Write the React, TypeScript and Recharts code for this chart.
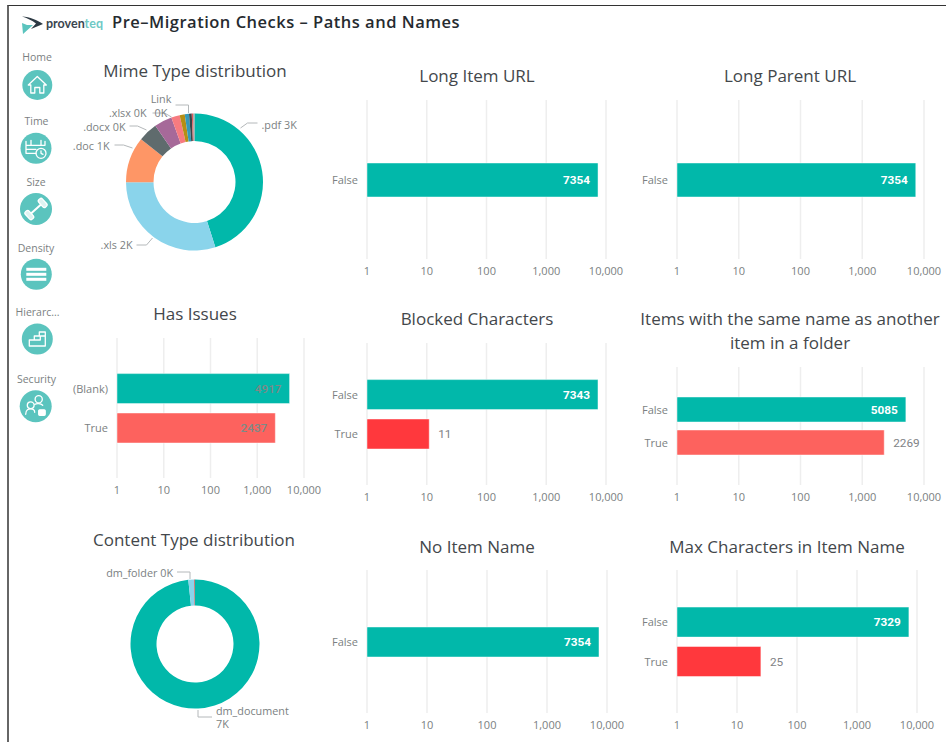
import React from 'react';
import { BarChart, Bar, Cell, CartesianGrid, LabelList, XAxis, YAxis, PieChart, Pie } from 'recharts';

const LOG_TICKS = [1, 10, 100, 1000, 10000];

const FALSE_ONLY = ['False'];
const FALSE_TRUE = ['False', 'True'];
const BLANK_TRUE = ['(Blank)', 'True'];

const LONG_ITEM_VALUES = [7354];
const LONG_PARENT_VALUES = [7354];
const HAS_ISSUES_VALUES = [4917, 2437];
const BLOCKED_VALUES = [7343, 11];
const SAME_NAME_VALUES = [5085, 2269];
const NO_NAME_VALUES = [7354];
const MAX_CHARS_VALUES = [7329, 25];

const MIME_NAMES = ['.pdf', '.xls', '.doc', '.docx', '.xlsx', 'Link', 'a', 'b', 'c', 'd', 'e'];
const MIME_VALUES = [3315, 2196, 795, 335, 310, 147, 88, 74, 47, 25, 22];
const MIME_COLORS = ['#01B8AA', '#8AD4EB', '#FE9666', '#5F6B6D', '#A66999', '#F77B80', '#B58E14', '#3599B8', '#374649', '#DF5A5A', '#9AA3A5'];

const CONTENT_NAMES = ['dm_document', 'dm_folder', 'other'];
const CONTENT_VALUES = [7232, 108, 14];
const CONTENT_COLORS = ['#01B8AA', '#8AD4EB', '#C0504D'];

const TEAL = '#01B8AA';
const CORAL = '#FD625E';
const RED = '#FF383D';

const TITLE_FONT = '"Open Sans", sans-serif';
const AXIS_FONT = '"Open Sans", sans-serif';
const VALUE_FONT = 'Roboto, sans-serif';
const GREY = '#7b7f82';

const toRows = (names: string[], values: number[]) => names.map((name, i) => ({ name, value: values[i] }));

const Title = ({ x, y, children }: any) => (
  <div style={{ position: 'absolute', left: x - 160, top: y - 12, width: 320, textAlign: 'center', fontFamily: TITLE_FONT, fontSize: 17, lineHeight: '24px', color: '#43474b', whiteSpace: 'pre-line' }}>
    {children}
  </div>
);

// label style per bar: inside white, inside dim, or outside
const valueLabel = (modes: string[]) => (props: any) => {
  const { x, y, width, height, value, index } = props;
  const mode = modes[index];
  const inside = mode !== 'out';
  const fill = mode === 'white' ? '#ffffff' : mode === 'dim' ? '#7d8a88' : '#7f8386';
  return (
    <text
      x={inside ? x + width - 8 : x + width + 9}
      y={y + height / 2}
      dy="0.36em"
      textAnchor={inside ? 'end' : 'start'}
      fill={fill}
      fontFamily={VALUE_FONT}
      fontSize={11.8}
      fontWeight={mode === 'white' ? 700 : mode === 'dim' ? 500 : 400}
    >
      {value}
    </text>
  );
};

const BarPanel = ({ names, values, colors, modes, left, right, top, bottom, step, barSize }: any) => {
  const plotH = bottom - top;
  const pad = step ? (plotH - names.length * step) / 2 : 0;
  return (
    <div style={{ position: 'absolute', left: left - 60, top }}>
      <BarChart
        width={right - left + 60 + 34}
        height={plotH + 25}
        layout="vertical"
        data={toRows(names, values)}
        margin={{ top: 0, right: 34, bottom: 0, left: 0 }}
      >
        <CartesianGrid horizontal={false} stroke="#eeeeee" strokeWidth={1.5} />
        <XAxis
          type="number"
          dataKey="value"
          scale="log"
          domain={[1, 10000]}
          ticks={LOG_TICKS}
          interval={0}
          height={25}
          allowDataOverflow
          axisLine={false}
          tickLine={false}
          tickSize={0}
          tickMargin={8}
          tick={{ fill: GREY, fontSize: 11, fontFamily: AXIS_FONT }}
          tickFormatter={(v: number) => v.toLocaleString('en-US')}
        />
        <YAxis
          type="category"
          dataKey="name"
          width={60}
          padding={{ top: pad, bottom: pad }}
          axisLine={false}
          tickLine={false}
          tickSize={0}
          tickMargin={9}
          tick={{ fill: GREY, fontSize: 11, fontFamily: AXIS_FONT, dy: 0.5 }}
        />
        <Bar dataKey="value" barSize={barSize} isAnimationActive={false} strokeWidth={1} strokeOpacity={0.45} stroke="#ffffff">
          {names.map((n: string, i: number) => (
            <Cell key={n} fill={colors[i]} />
          ))}
          <LabelList dataKey="value" content={valueLabel(modes)} />
        </Bar>
      </BarChart>
    </div>
  );
};

const LABEL_TEXT = { fill: GREY, fontSize: 10.8, fontFamily: AXIS_FONT };
const LEADER = { fill: 'none', stroke: '#b4b8ba', strokeWidth: 1 };

// leader lines and captions, offsets from the donut centre
const MIME_CALLOUTS: any = {
  '.pdf': { line: '46,-54 53,-59 63,-59', x: 67, y: -57, anchor: 'start', lines: ['.pdf 3K'] },
  '.xls': { line: '-42,56 -48,63 -58,63', x: -62, y: 63, anchor: 'end', lines: ['.xls 2K'] },
  '.doc': { line: '-62,-34 -71,-37 -80,-37', x: -85, y: -36, anchor: 'end', lines: ['.doc 1K'] },
  '.docx': { line: '-48,-52 -57,-56 -65,-56', x: -69, y: -55, anchor: 'end', lines: ['.docx 0K'] },
  '.xlsx': { line: '-42,-69 -30,-69 -23,-65', x: -48, y: -69, anchor: 'end', lines: ['.xlsx 0K'] },
  Link: { line: '-19,-77 -6,-77 -6,-69', x: -33.5, y: -82.5, anchor: 'middle', lines: ['Link', '0K'] },
};
const CONTENT_CALLOUTS: any = {
  dm_folder: { line: '-18,-72 -5,-72 -5,-65', x: -22, y: -71, anchor: 'end', lines: ['dm_folder 0K'] },
  dm_document: { line: '3,66 3,73 17,73', x: 21, y: 67, anchor: 'start', lines: ['dm_document', '7K'] },
};

const calloutLabel = (callouts: any) => (props: any) => {
  const c = callouts[props.name];
  if (!c) return null;
  const { cx, cy } = props;
  const points = c.line
    .split(' ')
    .map((p: string) => {
      const [dx, dy] = p.split(',').map(Number);
      return `${cx + dx},${cy + dy}`;
    })
    .join(' ');
  return (
    <g>
      <polyline points={points} {...LEADER} />
      <text x={cx + c.x} y={cy + c.y} textAnchor={c.anchor} {...LABEL_TEXT}>
        {c.lines.map((t: string, i: number) => (
          <tspan key={t} x={cx + c.x} dy={i === 0 ? '0.36em' : 13.5}>
            {t}
          </tspan>
        ))}
      </text>
    </g>
  );
};

const Donut = ({ names, values, colors, callouts, cx, cy, inner, outer }: any) => (
  <div style={{ position: 'absolute', left: 50, top: cy - 100 }}>
    <PieChart width={280} height={200} margin={{ top: 0, right: 0, bottom: 0, left: 0 }}>
      <Pie
        data={toRows(names, values)}
        dataKey="value"
        nameKey="name"
        cx={cx - 50}
        cy={100}
        innerRadius={inner}
        outerRadius={outer}
        startAngle={90}
        endAngle={-270}
        stroke="none"
        labelLine={false}
        label={calloutLabel(callouts)}
        isAnimationActive={false}
      >
        {names.map((n: string, i: number) => (
          <Cell key={n} fill={colors[i]} />
        ))}
      </Pie>
    </PieChart>
  </div>
);

const ICON = { fill: 'none', stroke: '#ffffff', strokeWidth: 1.3, strokeLinejoin: 'round' as const, strokeLinecap: 'round' as const };

const NavIcon = ({ kind }: { kind: string }) => {
  if (kind === 'Home') return <path d="M-9,0 L0,-8.5 L9,0 L6.5,0 L6.5,8 L2.5,8 L2.5,2.5 L-2.5,2.5 L-2.5,8 L-6.5,8 L-6.5,0 Z" {...ICON} />;
  if (kind === 'Time')
    return (
      <g {...ICON}>
        <path d="M-10,-7 L-10,5 L0,5 M-10,-3 L9,-3 L9,-7 M-5,-8 L-5,-3 M5,-8 L5,-3 M-10,1 L0,1" />
        <circle cx={5} cy={5} r={5} />
        <path d="M5,2.5 L5,5 L7,6" />
      </g>
    );
  if (kind === 'Size')
    return (
      <g {...ICON} transform="rotate(-42)">
        <path d="M-6,0 L6,0" strokeWidth={2} />
        <rect x={-11.5} y={-5} width={5} height={10} rx={2} fill="#dff3f1" />
        <rect x={6.5} y={-5} width={5} height={10} rx={2} fill="#dff3f1" />
      </g>
    );
  if (kind === 'Density')
    return (
      <g fill="#ffffff">
        <rect x={-10} y={-6.5} width={20} height={3} />
        <rect x={-10} y={-1.5} width={20} height={3} />
        <rect x={-10} y={3.5} width={20} height={3} />
      </g>
    );
  if (kind === 'Hierarc...')
    return <path d="M-8,7 L-8,1 L-3,1 L-3,-3 L2,-3 L2,-7 L8,-7 L8,7 Z M-8,1 L3,1 L3,-3 L8,-3" {...ICON} />;
  return (
    <g {...ICON}>
      <circle cx={3} cy={-7} r={3.6} />
      <circle cx={-5} cy={-1} r={3.4} />
      <path d="M-10,8 C-10,3 -7,2.5 -5,2.5 C-3,2.5 -1,3 -1,6 M-1,-2 C1,-3 5,-3 7,-1" />
      <rect x={3} y={3.5} width={6.5} height={5.5} rx={1} fill="#ffffff" />
    </g>
  );
};

const NAV_ITEMS = ['Home', 'Time', 'Size', 'Density', 'Hierarc...', 'Security'];
const NAV_LAYOUT = [
  { lx: 37, ly: 57, cx: 37.3, cy: 85, r: 15 },
  { lx: 36.5, ly: 121, cx: 36, cy: 148.3, r: 15.5 },
  { lx: 36, ly: 182, cx: 36, cy: 209, r: 16 },
  { lx: 36, ly: 248, cx: 36.3, cy: 274.3, r: 15.5 },
  { lx: 37.5, ly: 312, cx: 37.3, cy: 339, r: 15.5 },
  { lx: 36.5, ly: 379, cx: 35.7, cy: 406.3, r: 16 },
];

const Sidebar = () => (
  <svg width={70} height={430} style={{ position: 'absolute', left: 0, top: 0 }}>
    {NAV_ITEMS.map((item, i) => {
      const p = NAV_LAYOUT[i];
      return (
        <g key={item}>
          <text x={p.lx} y={p.ly} dy="0.36em" textAnchor="middle" fill={GREY} fontSize={10.5} fontFamily={AXIS_FONT}>
            {item}
          </text>
          <circle cx={p.cx} cy={p.cy} r={p.r} fill="#5BC4BE" />
          <g transform={`translate(${p.cx},${p.cy})`}>
            <NavIcon kind={item} />
          </g>
        </g>
      );
    })}
  </svg>
);

const Header = () => (
  <svg width={480} height={40} style={{ position: 'absolute', left: 0, top: 0 }}>
    <path d="M22,23 L23,34 L33,25 L27,25 Z" fill="#5BC4BE" />
    <path d="M22,16.5 C30,17 37,20 43,24 L31,29 L36,23.5 C32,20.5 27,18 22,16.5 Z" fill="#2d3a44" />
    <text x={46} y={28} fontFamily="Lato, sans-serif" fontSize={12.5} fontWeight={700} fill="#3b4650">
      proven<tspan fill="#6fc9c5">teq</tspan>
    </text>
    <text x={112} y={28} fontFamily={TITLE_FONT} fontSize={16.5} fontWeight={600} fill="#262b30" letterSpacing={0.5}>
      Pre–Migration Checks – Paths and Names
    </text>
  </svg>
);

export default function App() {
  return (
    <div style={{ position: 'absolute', left: 0, top: 0, width: 946, height: 742, background: '#fff', overflow: 'hidden' }}>
      <div style={{ position: 'absolute', left: 7, top: 5, width: 939, height: 737, borderLeft: '2px solid #666', borderTop: '1px solid #333', boxSizing: 'border-box' }} />
      <Header />
      <Sidebar />

      <Title x={195} y={71}>Mime Type distribution</Title>
      <Donut names={MIME_NAMES} values={MIME_VALUES} colors={MIME_COLORS} callouts={MIME_CALLOUTS} cx={194.5} cy={182} inner={41} outer={68.5} />

      <Title x={477} y={76}>Long Item URL</Title>
      <BarPanel names={FALSE_ONLY} values={LONG_ITEM_VALUES} colors={[TEAL]} modes={['white']} left={367} right={606} top={100} bottom={259} barSize={34} />

      <Title x={790} y={76}>Long Parent URL</Title>
      <BarPanel names={FALSE_ONLY} values={LONG_PARENT_VALUES} colors={[TEAL]} modes={['white']} left={677} right={924} top={100} bottom={259} barSize={34} />

      <Title x={195} y={314}>Has Issues</Title>
      <BarPanel names={BLANK_TRUE} values={HAS_ISSUES_VALUES} colors={[TEAL, CORAL]} modes={['dim', 'dim']} left={117} right={304} top={338} bottom={478} step={39.4} barSize={30} />

      <Title x={477} y={319}>Blocked Characters</Title>
      <BarPanel names={FALSE_TRUE} values={BLOCKED_VALUES} colors={[TEAL, RED]} modes={['white', 'out']} left={367} right={606} top={343} bottom={485} step={39.4} barSize={30} />

      <Title x={790} y={319}>{'Items with the same name as another\nitem in a folder'}</Title>
      <BarPanel names={FALSE_TRUE} values={SAME_NAME_VALUES} colors={[TEAL, CORAL]} modes={['white', 'out']} left={677} right={924} top={367} bottom={485} step={33} barSize={25} />

      <Title x={194} y={540}>Content Type distribution</Title>
      <Donut names={CONTENT_NAMES} values={CONTENT_VALUES} colors={CONTENT_COLORS} callouts={CONTENT_CALLOUTS} cx={195} cy={643.5} inner={38.5} outer={64.5} />

      <Title x={477} y={547}>No Item Name</Title>
      <BarPanel names={FALSE_ONLY} values={NO_NAME_VALUES} colors={[TEAL]} modes={['white']} left={367} right={607} top={570} bottom={713} barSize={30} />

      <Title x={787} y={547}>Max Characters in Item Name</Title>
      <BarPanel names={FALSE_TRUE} values={MAX_CHARS_VALUES} colors={[TEAL, RED]} modes={['white', 'out']} left={677} right={917} top={570} bottom={713} step={39.4} barSize={30} />
    </div>
  );
}
